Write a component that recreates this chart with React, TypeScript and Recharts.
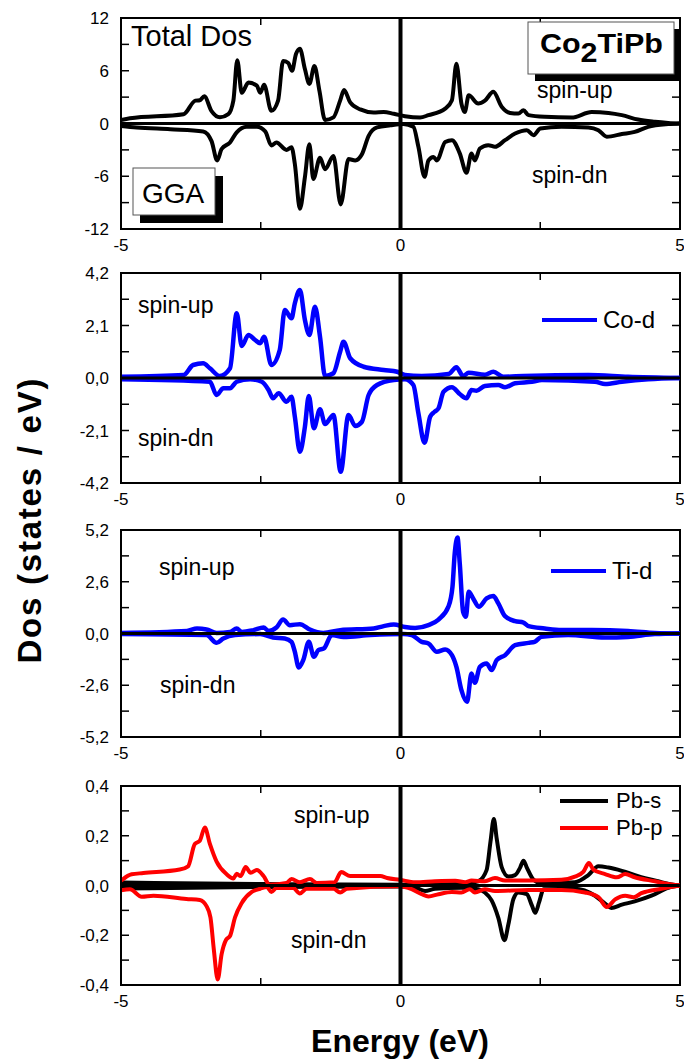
import React from 'react'
import { LineChart, Line, XAxis, YAxis, ReferenceLine, ReferenceArea } from 'recharts'

type Pt = [number, number]

const FONT = "'Liberation Sans', Arial, sans-serif"
const PLOT_L = 121
const PLOT_R = 680

const energyTicks = [-5, -2.5, 0, 2.5, 5]
const energyLabels = [-5, 0, 5]

// total DOS (states/eV)
const totalUp: Pt[] = [[-5,0.4],[-4.84,0.6],[-3.88,1.06],[-3.67,2.6],[-3.59,2.65],[-3.51,3.1],[-3.38,1.4],[-3.23,0.7],[-3.08,1.06],[-2.99,2.6],[-2.92,7.2],[-2.84,3.5],[-2.72,4.66],[-2.57,4.3],[-2.51,3.5],[-2.44,4.4],[-2.31,1.44],[-2.19,2.6],[-2.1,7.1],[-2.01,6.9],[-1.94,6.0],[-1.87,7.9],[-1.8,8.5],[-1.71,6.2],[-1.63,4.5],[-1.54,6.55],[-1.45,3.7],[-1.35,0.4],[-1.2,0.7],[-1.08,2.6],[-1.01,3.8],[-0.9,2.4],[-0.72,1.6],[-0.48,1.25],[-0.3,1.3],[-0.12,1.1],[0.08,0.83],[0.35,0.68],[0.5,0.95],[0.8,1.7],[0.92,2.65],[1.0,6.8],[1.09,2.27],[1.15,1.3],[1.22,3.2],[1.39,2.27],[1.51,2.6],[1.66,3.6],[1.81,1.9],[1.96,1.2],[2.11,1.13],[2.2,1.5],[2.29,0.95],[2.58,0.76],[3.06,0.68],[3.42,1.3],[3.72,1.2],[3.96,0.95],[4.25,0.45],[4.55,0.2],[4.79,0.07],[5,0]]
const totalDn: Pt[] = [[-5,-0.27],[-4.72,-0.45],[-4.12,-0.65],[-3.53,-0.9],[-3.38,-2.0],[-3.28,-4.2],[-3.2,-2.9],[-3.05,-2.16],[-2.93,-1.0],[-2.75,-0.38],[-2.57,-0.38],[-2.42,-0.9],[-2.31,-2.5],[-2.22,-2.16],[-2.04,-3.0],[-1.95,-2.7],[-1.89,-4.6],[-1.8,-9.7],[-1.71,-6.1],[-1.63,-2.35],[-1.56,-6.3],[-1.44,-3.9],[-1.35,-5.2],[-1.2,-3.7],[-1.07,-9.2],[-0.93,-4.05],[-0.81,-4.2],[-0.69,-3.5],[-0.57,-1.4],[-0.42,-0.45],[-0.18,-0.2],[0.05,-0.05],[0.23,-0.38],[0.32,-2.65],[0.43,-6.06],[0.5,-4.2],[0.59,-3.8],[0.65,-4.2],[0.8,-2.1],[0.92,-1.9],[1.06,-3.4],[1.18,-5.6],[1.27,-3.4],[1.33,-4.2],[1.42,-2.85],[1.57,-2.46],[1.69,-2.65],[1.87,-1.9],[2.05,-1.14],[2.26,-0.76],[2.38,-1.33],[2.5,-0.57],[2.88,-0.38],[3.36,-0.45],[3.54,-0.76],[3.69,-1.5],[3.96,-1.2],[4.19,-0.95],[4.43,-0.38],[4.79,-0.07],[5,0]]

// Co-d
const coUp: Pt[] = [[-5,0.05],[-3.88,0.12],[-3.71,0.52],[-3.53,0.59],[-3.41,0.39],[-3.23,0.08],[-3.05,0.39],[-2.93,2.59],[-2.84,1.28],[-2.72,1.72],[-2.6,1.52],[-2.51,1.39],[-2.44,1.65],[-2.31,0.52],[-2.16,1.12],[-2.07,2.72],[-1.95,2.39],[-1.89,2.99],[-1.8,3.52],[-1.71,2.32],[-1.63,1.72],[-1.53,2.85],[-1.44,1.65],[-1.35,0.08],[-1.2,0.19],[-1.08,1.05],[-1.02,1.45],[-0.9,0.79],[-0.66,0.45],[-0.3,0.32],[-0.06,0.25],[0.08,0.12],[0.38,0.08],[0.86,0.16],[1.0,0.43],[1.12,0.08],[1.22,0.21],[1.51,0.13],[1.66,0.25],[1.84,0.05],[2.2,0.08],[3.36,0.12],[4.07,0.05],[5,0]]
const coDn: Pt[] = [[-5,-0.05],[-3.41,-0.15],[-3.29,-0.68],[-3.17,-0.41],[-3.05,-0.41],[-2.93,-0.15],[-2.69,-0.05],[-2.48,-0.15],[-2.36,-0.48],[-2.28,-0.81],[-2.18,-0.61],[-2.04,-0.95],[-1.95,-0.75],[-1.89,-1.55],[-1.8,-2.95],[-1.71,-1.95],[-1.64,-0.72],[-1.55,-2.01],[-1.44,-1.25],[-1.35,-1.84],[-1.2,-1.48],[-1.07,-3.75],[-0.93,-1.48],[-0.81,-1.92],[-0.69,-1.75],[-0.57,-0.68],[-0.42,-0.28],[-0.12,-0.08],[0.08,-0.05],[0.23,-0.28],[0.32,-1.41],[0.43,-2.59],[0.53,-1.55],[0.61,-1.35],[0.68,-1.21],[0.77,-0.55],[0.92,-0.37],[1.06,-0.64],[1.18,-0.81],[1.27,-0.48],[1.36,-0.51],[1.51,-0.32],[1.75,-0.28],[1.87,-0.37],[2.05,-0.21],[2.35,-0.15],[2.53,-0.08],[3.48,-0.15],[3.66,-0.24],[3.96,-0.15],[4.43,-0.05],[5,0]]

// Ti-d
const tiUp: Pt[] = [[-5,0.03],[-3.82,0.13],[-3.64,0.25],[-3.47,0.2],[-3.29,0.03],[-3.05,0.08],[-2.93,0.25],[-2.84,0.08],[-2.63,0.17],[-2.45,0.3],[-2.36,0.13],[-2.22,0.3],[-2.1,0.7],[-1.98,0.42],[-1.8,0.47],[-1.62,0.2],[-1.38,0.03],[-1.08,0.17],[-0.48,0.25],[-0.3,0.37],[-0.12,0.45],[0.08,0.33],[0.26,0.28],[0.5,0.42],[0.68,0.7],[0.86,1.37],[0.93,2.35],[0.97,4.02],[1.02,4.82],[1.06,3.52],[1.12,1.09],[1.17,0.84],[1.22,2.1],[1.3,1.76],[1.4,1.34],[1.54,1.76],[1.66,1.88],[1.75,1.51],[1.87,0.87],[2.05,0.62],[2.2,0.55],[2.29,0.37],[2.58,0.25],[2.88,0.17],[3.42,0.17],[4.07,0.13],[4.55,0.03],[5,0]]
const tiDn: Pt[] = [[-5,-0.03],[-3.47,-0.08],[-3.29,-0.47],[-3.17,-0.25],[-2.96,-0.08],[-2.51,-0.03],[-2.28,-0.2],[-2.07,-0.25],[-1.95,-0.42],[-1.89,-0.92],[-1.82,-1.71],[-1.74,-1.34],[-1.64,-0.42],[-1.55,-1.17],[-1.47,-0.84],[-1.37,-0.75],[-1.23,-0.08],[-1.02,-0.17],[-0.54,-0.08],[0.05,-0.03],[0.2,-0.08],[0.38,-0.42],[0.5,-0.5],[0.65,-0.92],[0.8,-0.8],[0.92,-1.09],[1.0,-1.68],[1.09,-2.85],[1.19,-3.43],[1.27,-2.01],[1.33,-2.48],[1.42,-1.68],[1.54,-1.51],[1.63,-1.84],[1.72,-1.34],[1.87,-1.09],[2.05,-0.59],[2.29,-0.47],[2.4,-0.42],[2.52,-0.17],[3.0,-0.08],[3.66,-0.2],[4.07,-0.17],[4.55,-0.03],[5,0]]

// Pb-s / Pb-p
const pbsUp: Pt[] = [[-5,0.012],[-2.5,0.006],[0,0.003],[1.09,0.006],[1.39,0.017],[1.54,0.062],[1.61,0.177],[1.67,0.267],[1.72,0.19],[1.81,0.074],[1.93,0.036],[2.05,0.042],[2.14,0.072],[2.2,0.1],[2.26,0.072],[2.38,0.023],[2.53,0.008],[3.12,0.013],[3.36,0.042],[3.54,0.077],[3.72,0.072],[3.96,0.059],[4.25,0.038],[4.61,0.017],[4.85,0.004],[5,0]]
const pbsDn: Pt[] = [[-5,-0.012],[-2.5,-0.006],[0,-0.004],[0.32,-0.013],[0.44,-0.022],[0.62,-0.013],[1.09,-0.009],[1.39,-0.015],[1.51,-0.028],[1.63,-0.06],[1.75,-0.13],[1.86,-0.22],[1.93,-0.156],[2.02,-0.054],[2.11,-0.028],[2.26,-0.035],[2.35,-0.08],[2.41,-0.11],[2.48,-0.067],[2.56,-0.015],[3.12,-0.013],[3.48,-0.041],[3.66,-0.073],[3.77,-0.09],[3.96,-0.077],[4.19,-0.064],[4.49,-0.041],[4.79,-0.009],[5,0]]
const pbpUp: Pt[] = [[-5,0.019],[-4.81,0.045],[-4.6,0.05],[-3.95,0.064],[-3.8,0.077],[-3.68,0.167],[-3.59,0.18],[-3.5,0.233],[-3.41,0.167],[-3.29,0.096],[-3.11,0.045],[-2.99,0.028],[-2.93,0.047],[-2.86,0.038],[-2.77,0.074],[-2.68,0.051],[-2.57,0.062],[-2.45,0.038],[-2.34,0.003],[-2.04,0.01],[-1.95,0.026],[-1.8,0.013],[-1.62,0.026],[-1.5,0.01],[-1.18,0.013],[-1.06,0.054],[-0.9,0.038],[-0.36,0.038],[-0.24,0.03],[-0.01,0.023],[0.26,0.013],[0.62,0.017],[0.98,0.019],[1.16,0.013],[1.27,0.02],[1.51,0.017],[1.69,0.03],[1.87,0.02],[2.29,0.02],[2.88,0.023],[3.12,0.036],[3.27,0.055],[3.37,0.09],[3.45,0.064],[3.66,0.046],[3.87,0.033],[4.02,0.046],[4.19,0.033],[4.55,0.017],[4.85,0.004],[5,0]]
const pbpDn: Pt[] = [[-5,-0.019],[-4.84,-0.015],[-4.63,-0.045],[-4.42,-0.041],[-3.83,-0.054],[-3.59,-0.058],[-3.47,-0.083],[-3.4,-0.128],[-3.34,-0.256],[-3.27,-0.378],[-3.2,-0.276],[-3.12,-0.218],[-3.05,-0.203],[-2.96,-0.128],[-2.84,-0.07],[-2.66,-0.026],[-2.51,-0.013],[-2.39,-0.006],[-2.31,-0.026],[-2.22,-0.01],[-1.92,-0.01],[-1.8,-0.032],[-1.68,-0.013],[-1.2,-0.013],[-1.08,-0.028],[-0.96,-0.013],[-0.01,-0.003],[0.2,-0.015],[0.38,-0.035],[0.5,-0.044],[0.68,-0.035],[0.92,-0.026],[1.09,-0.028],[1.24,-0.015],[1.33,-0.028],[1.51,-0.015],[1.69,-0.022],[2.29,-0.018],[2.88,-0.018],[3.3,-0.028],[3.54,-0.047],[3.69,-0.086],[3.84,-0.056],[4.02,-0.041],[4.17,-0.047],[4.31,-0.031],[4.67,-0.013],[5,0]]

const totalTicks = [-12, -9, -6, -3, 0, 3, 6, 9, 12]
const totalLabels = [-12, -6, 0, 6, 12]
const coTicks = [-4.2, -3.15, -2.1, -1.05, 0, 1.05, 2.1, 3.15, 4.2]
const coLabels = [-4.2, -2.1, 0, 2.1, 4.2]
const tiTicks = [-5.2, -3.9, -2.6, -1.3, 0, 1.3, 2.6, 3.9, 5.2]
const tiLabels = [-5.2, -2.6, 0, 2.6, 5.2]
const pbTicks = [-0.4, -0.3, -0.2, -0.1, 0, 0.1, 0.2, 0.3, 0.4]
const pbLabels = [-0.4, -0.2, 0, 0.2, 0.4]

const intFmt = (v: number) => String(v)
const commaFmt = (v: number) => v.toFixed(1).replace('.', ',')

const toRows = (pts: Pt[]) => pts.map(([x, y]) => ({ x, y }))

interface SeriesDef {
  pts: Pt[]
  color: string
  width: number
}

interface PanelProps {
  top: number
  bottom: number
  max: number
  ticks: number[]
  labels: number[]
  fmt: (v: number) => string
  series: SeriesDef[]
}

const MT = 18
const XH = 30

function Panel({ top, bottom, max, ticks, labels, fmt, series }: PanelProps) {
  const plotH = bottom - top
  const h = plotH + MT + XH

  const yTick = (props: any) => {
    const { x, y, payload } = props
    const v = payload.value
    const show = labels.some((l) => Math.abs(l - v) < 1e-6)
    return (
      <g>
        <line x1={x} x2={x + 8} y1={y} y2={y} stroke="#000" strokeWidth={1.5} />
        <line x1={PLOT_R} x2={PLOT_R - 8} y1={y} y2={y} stroke="#000" strokeWidth={1.5} />
        {show && (
          <text x={x - 12} y={y + 6} textAnchor="end" fontSize={17} fontFamily={FONT} fill="#000">
            {fmt(v)}
          </text>
        )}
      </g>
    )
  }

  const xTick = (props: any) => {
    const { x, y, payload } = props
    const v = payload.value
    const show = energyLabels.includes(v)
    return (
      <g>
        <line x1={x} x2={x} y1={y} y2={y - 7} stroke="#000" strokeWidth={1.5} />
        <line x1={x} x2={x} y1={MT} y2={MT + 7} stroke="#000" strokeWidth={1.5} />
        {show && (
          <text x={x} y={y + 22} textAnchor="middle" fontSize={17} fontFamily={FONT} fill="#000">
            {v}
          </text>
        )}
      </g>
    )
  }

  return (
    <div style={{ position: 'absolute', left: 0, top: top - MT }}>
      <LineChart width={684} height={h} margin={{ top: MT, right: 684 - PLOT_R, bottom: 0, left: PLOT_L - 60 }}>
        <XAxis
          type="number"
          dataKey="x"
          domain={[-5, 5]}
          allowDataOverflow
          ticks={energyTicks}
          interval={0}
          height={XH}
          tickSize={0}
          tickMargin={0}
          tick={xTick}
          axisLine={{ stroke: '#000', strokeWidth: 2 }}
          tickLine={false}
        />
        <YAxis
          type="number"
          domain={[-max, max]}
          allowDataOverflow
          ticks={ticks}
          interval={0}
          width={60}
          tickSize={0}
          tickMargin={0}
          tick={yTick}
          axisLine={{ stroke: '#000', strokeWidth: 2 }}
          tickLine={false}
        />
        <ReferenceArea x1={-5} x2={5} y1={-max} y2={max} fill="none" stroke="#000" strokeWidth={2} />
        {series.map((s, i) => (
          <Line
            key={i}
            data={toRows(s.pts)}
            dataKey="y"
            type="monotone"
            stroke={s.color}
            strokeWidth={s.width}
            dot={false}
            activeDot={false}
            isAnimationActive={false}
          />
        ))}
        <ReferenceLine y={0} stroke="#000" strokeWidth={3} />
        <ReferenceLine x={0} stroke="#000" strokeWidth={4} />
      </LineChart>
    </div>
  )
}

const BLUE = '#0000ff'
const RED = '#ff0000'

export default function App() {
  const txt = { fontFamily: FONT, fill: '#000' }
  return (
    <div style={{ position: 'absolute', left: 0, top: 0, width: 684, height: 1061, background: '#fff', overflow: 'hidden' }}>
      <Panel top={18} bottom={229} max={12} ticks={totalTicks} labels={totalLabels} fmt={intFmt}
        series={[{ pts: totalUp, color: '#000', width: 4 }, { pts: totalDn, color: '#000', width: 4 }]} />
      <Panel top={273} bottom={483} max={4.2} ticks={coTicks} labels={coLabels} fmt={commaFmt}
        series={[{ pts: coUp, color: BLUE, width: 4.5 }, { pts: coDn, color: BLUE, width: 4.5 }]} />
      <Panel top={530} bottom={737} max={5.2} ticks={tiTicks} labels={tiLabels} fmt={commaFmt}
        series={[{ pts: tiUp, color: BLUE, width: 4.5 }, { pts: tiDn, color: BLUE, width: 4.5 }]} />
      <Panel top={786} bottom={985} max={0.4} ticks={pbTicks} labels={pbLabels} fmt={commaFmt}
        series={[
          { pts: pbsUp, color: '#000', width: 4 }, { pts: pbsDn, color: '#000', width: 4 },
          { pts: pbpUp, color: RED, width: 4 }, { pts: pbpDn, color: RED, width: 4 },
        ]} />

      <svg width={684} height={1061} style={{ position: 'absolute', left: 0, top: 0, pointerEvents: 'none' }}>
        {/* panel 1 labels */}
        <text x={131} y={46} fontSize={29} {...txt}>Total Dos</text>
        <rect x={535} y={29} width={146} height={52} fill="#000" />
        <rect x={528} y={22} width={146} height={52} fill="#fff" stroke="#555" strokeWidth={1} />
        <text x={540} y={53} fontSize={27} fontWeight="bold" textLength={123} lengthAdjust="spacingAndGlyphs" {...txt}>
          Co<tspan dy={9}>2</tspan><tspan dy={-9}>TiPb</tspan>
        </text>
        <text x={537} y={98} fontSize={23} {...txt}>spin-up</text>
        <text x={532} y={183} fontSize={23} {...txt}>spin-dn</text>
        <rect x={140} y={176} width={83} height={47} fill="#000" />
        <rect x={133} y={168} width={82} height={47} fill="#fff" stroke="#555" strokeWidth={1} />
        <text x={142} y={203} fontSize={28} {...txt}>GGA</text>

        {/* panel 2 */}
        <text x={138} y={313} fontSize={23} {...txt}>spin-up</text>
        <text x={138} y={446} fontSize={23} {...txt}>spin-dn</text>
        <line x1={542} x2={597} y1={320} y2={320} stroke={BLUE} strokeWidth={4} />
        <text x={603} y={328} fontSize={24} {...txt}>Co-d</text>

        {/* panel 3 */}
        <text x={159} y={575} fontSize={23} {...txt}>spin-up</text>
        <text x={160} y={693} fontSize={23} {...txt}>spin-dn</text>
        <line x1={551} x2={606} y1={571} y2={571} stroke={BLUE} strokeWidth={4} />
        <text x={612} y={579} fontSize={24} {...txt}>Ti-d</text>

        {/* panel 4 */}
        <text x={294} y={823} fontSize={23} {...txt}>spin-up</text>
        <text x={291} y={948} fontSize={23} {...txt}>spin-dn</text>
        <line x1={560} x2={608} y1={801} y2={801} stroke="#000" strokeWidth={4} />
        <text x={616} y={808} fontSize={22} {...txt}>Pb-s</text>
        <line x1={560} x2={608} y1={828} y2={828} stroke={RED} strokeWidth={4} />
        <text x={616} y={835} fontSize={22} {...txt}>Pb-p</text>

        {/* axis titles */}
        <text x={400} y={1052} fontSize={32} fontWeight="bold" textAnchor="middle" {...txt}>Energy (eV)</text>
        <text x={0} y={0} fontSize={33} fontWeight="bold" textAnchor="middle" textLength={285} lengthAdjust="spacing"
          transform="translate(41,521) rotate(-90)" {...txt}>
          Dos (states / eV)
        </text>
      </svg>
    </div>
  )
}
